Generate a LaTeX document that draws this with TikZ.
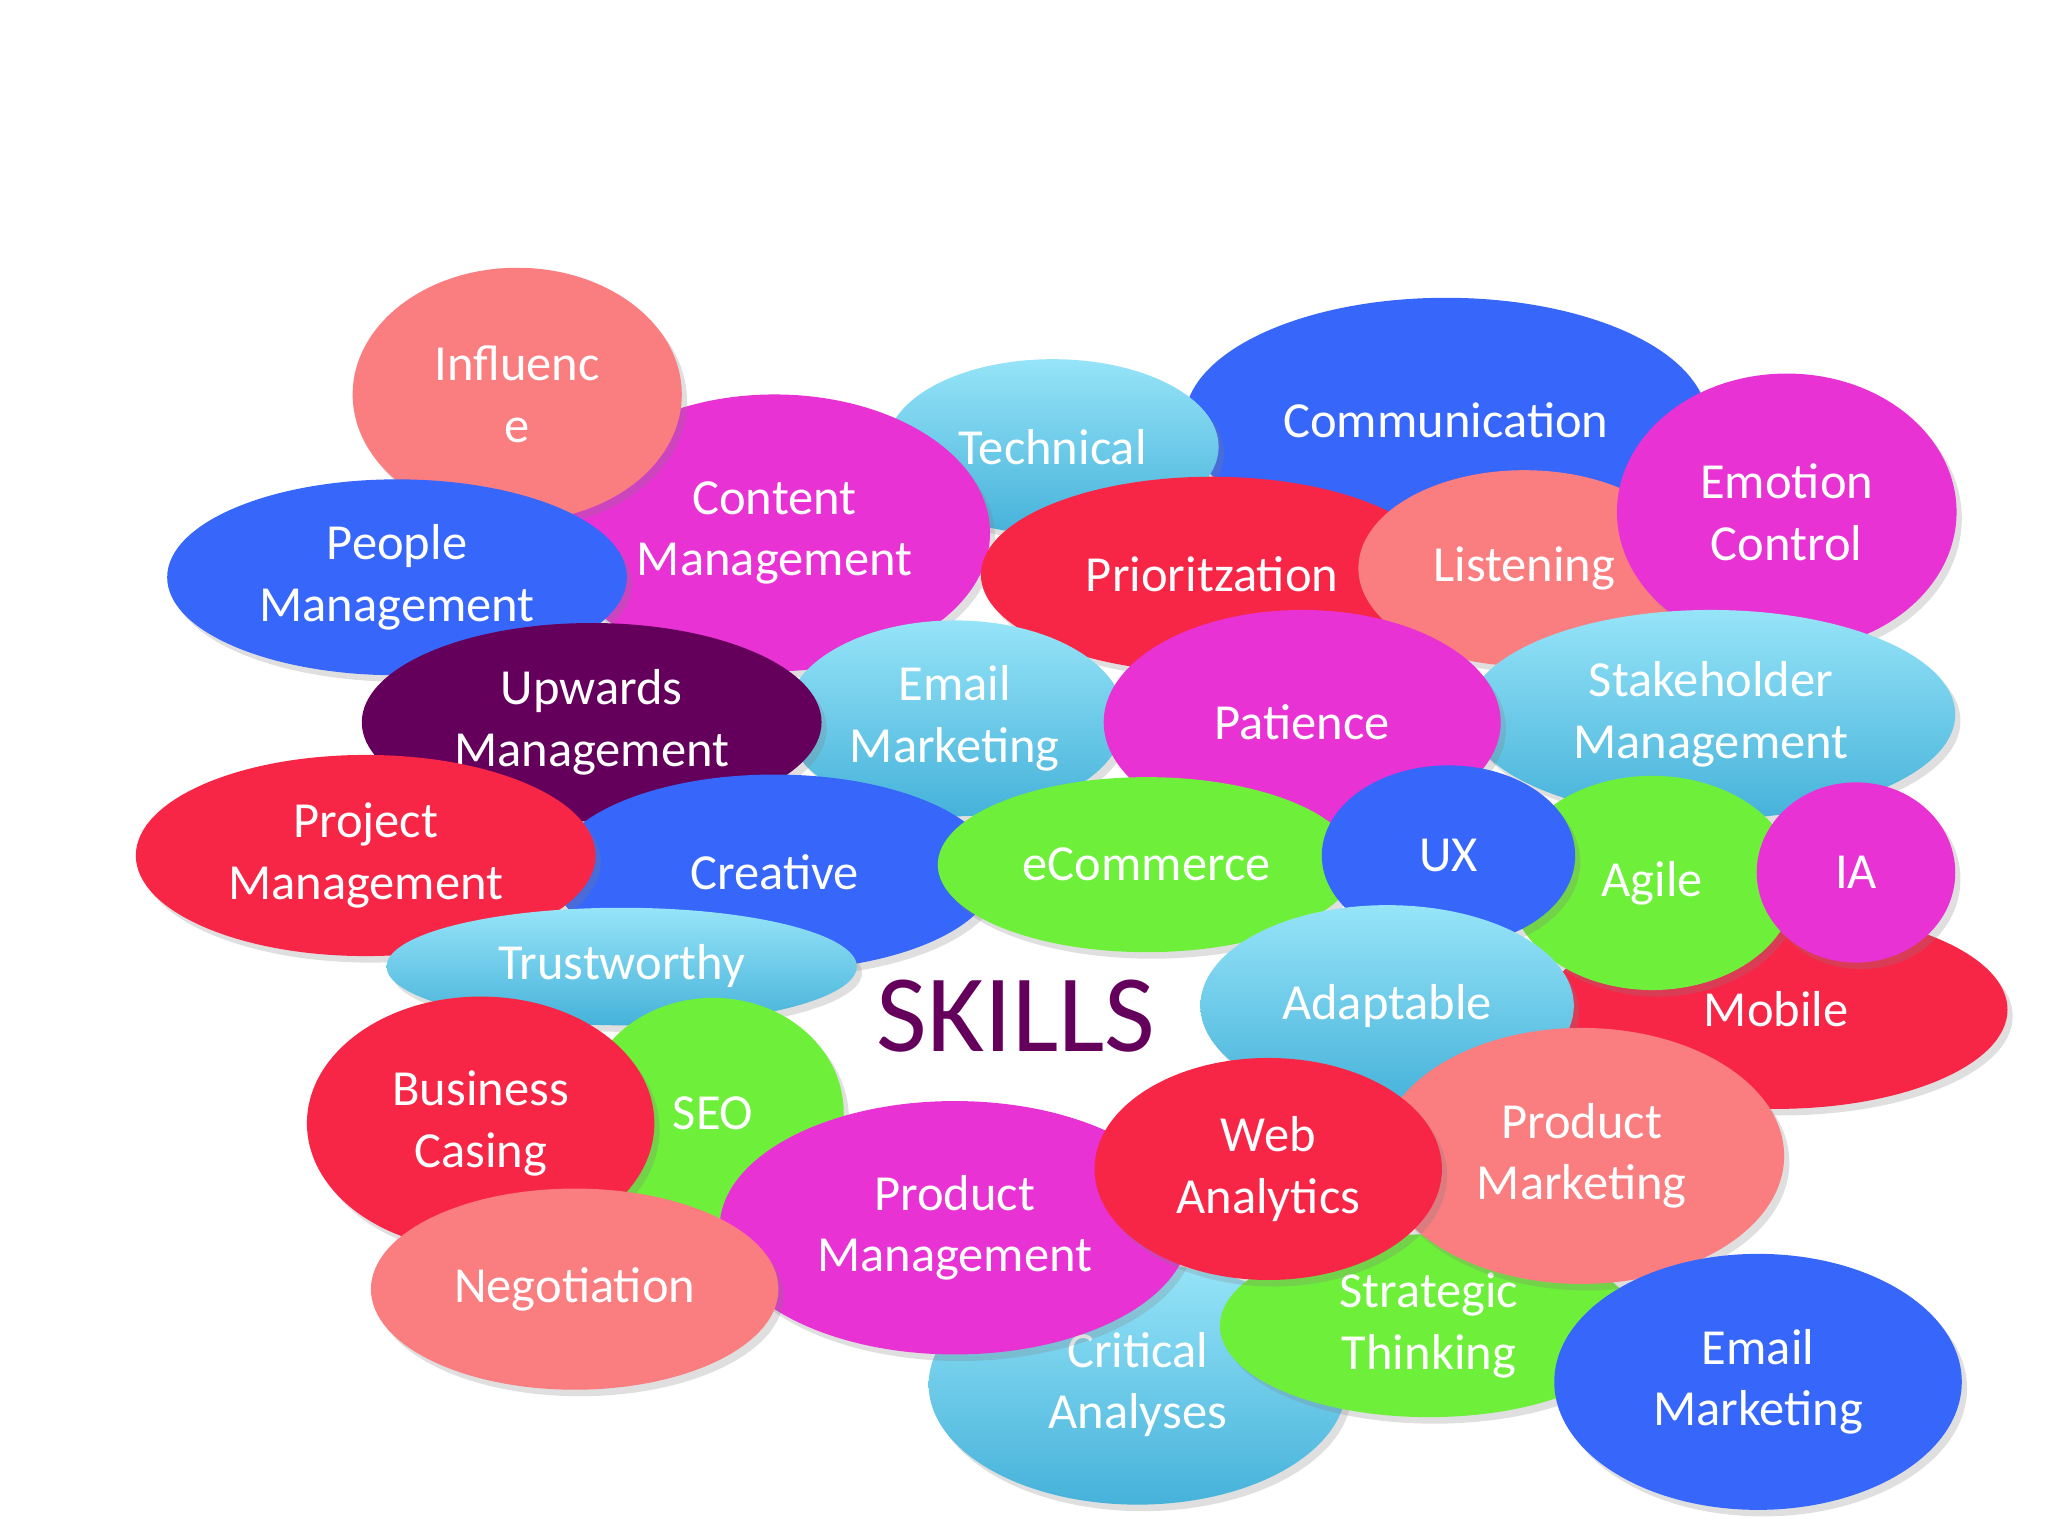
\documentclass[tikz,border=0pt]{standalone}
\usepackage{fontspec}
\setmainfont{Carlito}
\usetikzlibrary{shapes.geometric,shadows}
\definecolor{cblue}{RGB}{55,102,250}
\definecolor{cmag}{RGB}{232,50,212}
\definecolor{csal}{RGB}{250,125,128}
\definecolor{cred}{RGB}{248,38,70}
\definecolor{cgreen}{RGB}{110,240,58}
\definecolor{cpurp}{RGB}{100,0,92}
\definecolor{clt}{RGB}{150,228,248}
\definecolor{cltd}{RGB}{70,178,218}
\tikzset{
 blobst/.style={ellipse,inner sep=0pt,align=center,text=white,
   font=\fontsize{11}{13.4}\selectfont,drop shadow={opacity=0.25,shadow xshift=0.04cm,shadow yshift=-0.05cm}},
 fb/.style={blobst,fill=cblue}, fm/.style={blobst,fill=cmag}, fs/.style={blobst,fill=csal},
 fr/.style={blobst,fill=cred}, fg/.style={blobst,fill=cgreen}, fp/.style={blobst,fill=cpurp},
 fl/.style={blobst,top color=clt,bottom color=cltd}
}
\newcommand\blob[7]{\node[#2,minimum width={2*#5*0.01cm},minimum height={2*#6*0.01cm}] (#1) at (#3,#4) {#7};}
\begin{document}
\begin{tikzpicture}[x=0.01cm,y=-0.01cm]
\useasboundingbox (0,0) rectangle (1568,1176);
\blob{comm}{fb}{1107}{322}{200}{94}{Communication}
\blob{tech}{fl}{806}{342}{127}{67}{Technical}
\blob{cont}{fm}{593}{408}{165}{106}{Content\\Management}
\blob{infl}{fs}{396}{302}{126}{97}{Influenc\\e}
\blob{peop}{fb}{304}{442}{176}{75}{People\\Management}
\blob{prio}{fr}{928}{440}{177}{75}{Prioritzation}
\blob{list}{fs}{1167}{435}{127}{75}{Listening}
\blob{emot}{fm}{1368}{392}{130}{106}{Emotion\\Control}
\blob{emm}{fl}{731}{550}{130}{75}{Email\\Marketing}
\blob{stak}{fl}{1310}{547}{187}{80}{Stakeholder\\Management}
\blob{pati}{fm}{997}{553}{152}{86}{Patience}
\blob{upw}{fp}{453}{553}{176}{76}{Upwards\\Management}
\blob{crea}{fb}{593}{668}{170}{75}{Creative}
\blob{proj}{fr}{280}{655}{176}{77}{Project\\Management}
\blob{ecom}{fg}{878}{662}{160}{67}{eCommerce}
\blob{mob}{fr}{1360}{773}{177}{76}{Mobile}
\blob{agil}{fg}{1265}{676}{110}{82}{Agile}
\blob{ux}{fb}{1109}{655}{97}{69}{UX}
\blob{ia}{fm}{1421}{668}{76}{69}{IA}
\blob{trus}{fl}{476}{740}{180}{45}{Trustworthy}
\blob{adap}{fl}{1062}{770}{143}{77}{Adaptable}
\blob{seo}{fg}{546}{852}{100}{88}{SEO}
\blob{bus}{fr}{368}{860}{133}{97}{Business\\Casing}
\blob{crit}{fl}{871}{1060}{160}{92}{Critical\\Analyses}
\blob{strat}{fg}{1094}{1015}{160}{70}{Strategic\\Thinking}
\blob{pm}{fm}{731}{940}{180}{97}{Product\\Management}
\blob{pmk}{fs}{1211}{885}{155}{98}{Product\\Marketing}
\blob{web}{fr}{971}{895}{133}{85}{Web\\Analytics}
\blob{neg}{fs}{440}{987}{156}{77}{Negotiation}
\blob{em2}{fb}{1346}{1058}{156}{98}{Email\\Marketing}
\node[text=cpurp,font=\fontsize{24}{28}\selectfont] (skills) at (778,778) {SKILLS};
\end{tikzpicture}
\end{document}
